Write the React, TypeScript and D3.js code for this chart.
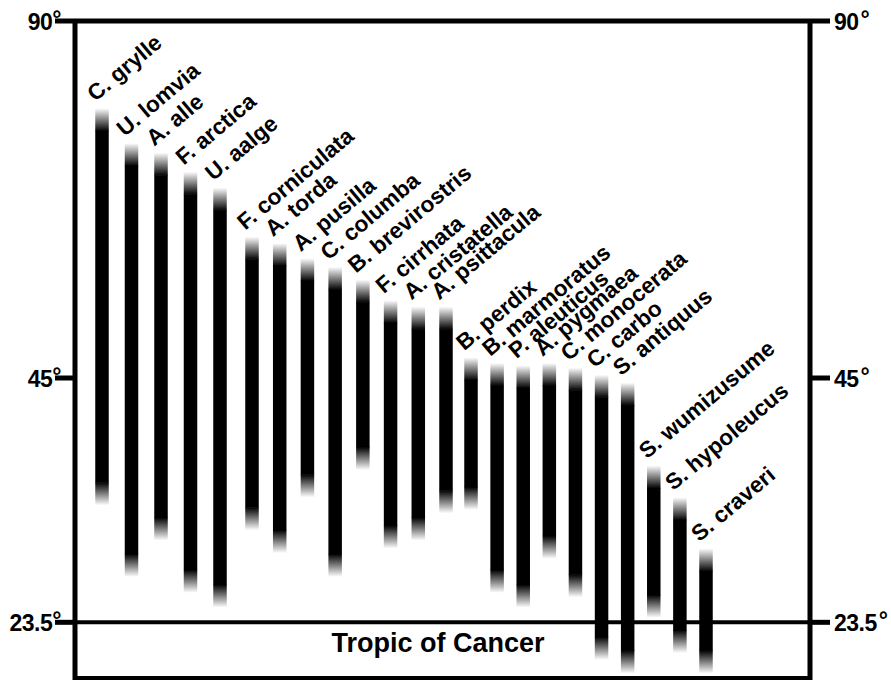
import { useEffect, useRef } from "react";
import { select, scaleLinear } from "d3";

const WIDTH = 891;
const HEIGHT = 681;

const SPECIES = [
  "C. grylle",
  "U. lomvia",
  "A. alle",
  "F. arctica",
  "U. aalge",
  "F. corniculata",
  "A. torda",
  "A. pusilla",
  "C. columba",
  "B. brevirostris",
  "F. cirrhata",
  "A. cristatella",
  "A. psittacula",
  "B. perdix",
  "B. marmoratus",
  "P. aleuticus",
  "A. pygmaea",
  "C. monocerata",
  "C. carbo",
  "S. antiquus",
  "S. wumizusume",
  "S. hypoleucus",
  "S. craveri",
];

// northern / southern range limits, degrees latitude
const NORTH_LIMIT = [
  79.0, 74.6, 73.4, 71.0, 69.0, 62.8, 62.0, 60.1, 59.0, 57.4, 54.8, 54.0,
  54.0, 47.6, 46.9, 46.6, 46.9, 46.3, 45.4, 44.6, 37.3, 34.5, 30.0,
];
const SOUTH_LIMIT = [
  33.8, 27.5, 30.7, 26.1, 24.8, 31.6, 29.6, 34.5, 27.5, 36.9, 30.0, 30.7,
  33.1, 33.4, 26.1, 24.8, 29.1, 25.7, 20.2, 19.0, 23.9, 20.8, 19.0,
];

const LAT_TICKS = [90, 45, 23.5];
const TICK_LABELS = ["90", "45", "23.5"];
const TROPIC = 23.5;
const TROPIC_LABEL = "Tropic of Cancer";

const FONT = "'Liberation Sans', Arial, Helvetica, sans-serif";
const BAR_W = 13.5;
const FADE = 23;

export default function App() {
  const svgRef = useRef<SVGSVGElement>(null);

  useEffect(() => {
    document.body.style.margin = "0";
    const svg = select(svgRef.current);
    svg.selectAll("*").remove();
    svg.attr("width", WIDTH).attr("height", HEIGHT);

    // latitude axis is stretched below 45°, as in the original figure
    const yScale = scaleLinear().domain([90, 45, 18.6]).range([21, 378, 678]);
    // species positions (groups are spaced slightly differently)
    const xScale = scaleLinear()
      .domain([0, 4, 5, 12, 13, 22])
      .range([102, 220, 252, 446, 471, 706]);

    const left = 75;
    const right = 810;
    const top = yScale(90);
    const bottom = yScale(18.6);

    const defs = svg.append("defs");
    const fadeIn = defs
      .append("linearGradient")
      .attr("id", "fadeIn")
      .attr("x1", 0)
      .attr("y1", 0)
      .attr("x2", 0)
      .attr("y2", 1);
    fadeIn.append("stop").attr("offset", 0).attr("stop-color", "#000").attr("stop-opacity", 0);
    fadeIn.append("stop").attr("offset", 1).attr("stop-color", "#000").attr("stop-opacity", 1);
    const fadeOut = defs
      .append("linearGradient")
      .attr("id", "fadeOut")
      .attr("x1", 0)
      .attr("y1", 0)
      .attr("x2", 0)
      .attr("y2", 1);
    fadeOut.append("stop").attr("offset", 0).attr("stop-color", "#000").attr("stop-opacity", 1);
    fadeOut.append("stop").attr("offset", 1).attr("stop-color", "#000").attr("stop-opacity", 0);

    svg.append("rect").attr("width", WIDTH).attr("height", HEIGHT).attr("fill", "#fff");

    // frame
    const frame = svg.append("g").attr("stroke", "#000").attr("fill", "none");
    frame.append("line").attr("x1", left - 20).attr("x2", right + 20).attr("y1", top).attr("y2", top).attr("stroke-width", 5);
    frame.append("line").attr("x1", left).attr("x2", left).attr("y1", top).attr("y2", bottom + 2).attr("stroke-width", 5);
    frame.append("line").attr("x1", right).attr("x2", right).attr("y1", top).attr("y2", bottom + 2).attr("stroke-width", 5);
    frame.append("line").attr("x1", left).attr("x2", right).attr("y1", bottom).attr("y2", bottom).attr("stroke-width", 4);

    // ticks
    LAT_TICKS.forEach((t, i) => {
      const y = yScale(t);
      if (t !== 90) {
        frame.append("line").attr("x1", left - 20).attr("x2", left).attr("y1", y).attr("y2", y).attr("stroke-width", 5);
        frame.append("line").attr("x1", right).attr("x2", right + 20).attr("y1", y).attr("y2", y).attr("stroke-width", 5);
      }
      const lt = svg
        .append("text")
        .attr("x", left - 14)
        .attr("y", y + 8.5)
        .attr("text-anchor", "end")
        .attr("font-family", FONT)
        .attr("font-weight", "bold")
        .attr("font-size", 23)
        .attr("letter-spacing", -0.5)
        .text(TICK_LABELS[i]);
      lt.append("tspan").attr("dy", -3).text("\u00b0");
      const rt = svg
        .append("text")
        .attr("x", right + 24)
        .attr("y", y + 8.5)
        .attr("font-family", FONT)
        .attr("font-weight", "bold")
        .attr("font-size", 23)
        .attr("letter-spacing", -0.5)
        .text(TICK_LABELS[i]);
      rt.append("tspan").attr("dx", 2).attr("dy", -3).text("\u00b0");
    });

    // Tropic of Cancer
    svg
      .append("line")
      .attr("x1", left)
      .attr("x2", right)
      .attr("y1", yScale(TROPIC))
      .attr("y2", yScale(TROPIC))
      .attr("stroke", "#000")
      .attr("stroke-width", 4);
    svg
      .append("text")
      .attr("x", 438)
      .attr("y", yScale(TROPIC) + 30)
      .attr("text-anchor", "middle")
      .attr("font-family", FONT)
      .attr("font-weight", "bold")
      .attr("font-size", 27)
      .text(TROPIC_LABEL);

    // range bars
    const bars = svg.append("g");
    SPECIES.forEach((name, i) => {
      const x = xScale(i) - BAR_W / 2;
      const y0 = yScale(NORTH_LIMIT[i]);
      const y1 = yScale(SOUTH_LIMIT[i]);
      bars.append("rect").attr("x", x).attr("y", y0).attr("width", BAR_W).attr("height", FADE).attr("fill", "url(#fadeIn)");
      bars
        .append("rect")
        .attr("x", x)
        .attr("y", y0 + FADE - 0.5)
        .attr("width", BAR_W)
        .attr("height", Math.max(0, y1 - y0 - 2 * FADE + 1))
        .attr("fill", "#000");
      bars.append("rect").attr("x", x).attr("y", y1 - FADE).attr("width", BAR_W).attr("height", FADE).attr("fill", "url(#fadeOut)");

      svg
        .append("text")
        .attr("transform", `translate(${x},${y0 - 6}) rotate(-40)`)
        .attr("font-family", FONT)
        .attr("font-weight", "bold")
        .attr("font-size", 22.5)
        .text(name);
    });
  }, []);

  return <svg ref={svgRef} style={{ display: "block" }} />;
}
